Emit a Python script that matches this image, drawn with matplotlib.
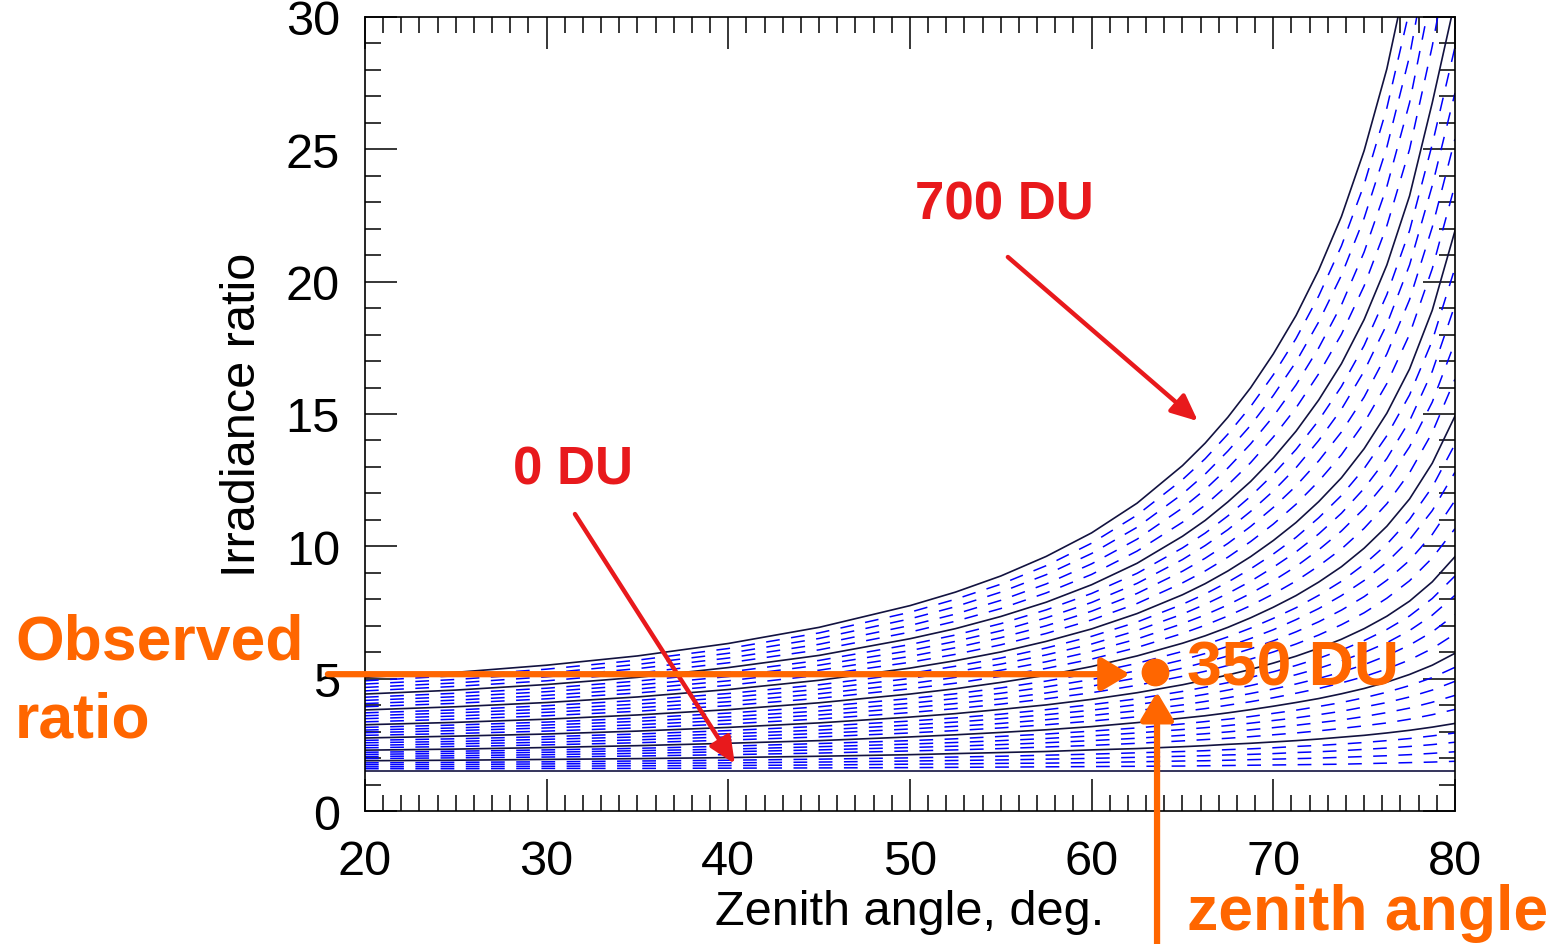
import matplotlib.pyplot as plt
from matplotlib.ticker import MultipleLocator

plt.rcParams['font.family'] = ['Liberation Sans', 'DejaVu Sans']

# solar zenith angle grid (deg)
zenith = [20, 25, 30, 35, 40, 45, 50, 52.5, 55, 57.5, 60, 62.5, 65, 66.25, 67.5,
          68.75, 70, 71.25, 72.5, 73.75, 75, 76.25, 77.5, 78.75, 80]

# irradiance ratio for each total ozone column (DU)
du_000 = [1.52] * len(zenith)
du_020 = [1.60, 1.60, 1.61, 1.61, 1.62, 1.63, 1.64, 1.65, 1.66, 1.67, 1.68, 1.69, 1.70, 1.71, 1.72, 1.73, 1.74, 1.75, 1.76, 1.77, 1.79, 1.81, 1.83, 1.85, 1.88]
du_040 = [1.67, 1.68, 1.69, 1.71, 1.72, 1.74, 1.77, 1.78, 1.80, 1.81, 1.83, 1.86, 1.89, 1.90, 1.92, 1.94, 1.96, 1.98, 2.00, 2.03, 2.06, 2.09, 2.13, 2.18, 2.24]
du_060 = [1.75, 1.76, 1.78, 1.80, 1.82, 1.85, 1.89, 1.91, 1.93, 1.96, 1.99, 2.03, 2.07, 2.09, 2.12, 2.14, 2.17, 2.21, 2.24, 2.28, 2.33, 2.38, 2.44, 2.51, 2.60]
du_080 = [1.82, 1.84, 1.86, 1.89, 1.92, 1.96, 2.01, 2.04, 2.07, 2.11, 2.15, 2.20, 2.25, 2.28, 2.32, 2.35, 2.39, 2.44, 2.48, 2.53, 2.59, 2.66, 2.74, 2.84, 2.95]
du_100 = [1.90, 1.92, 1.95, 1.98, 2.02, 2.07, 2.13, 2.17, 2.21, 2.25, 2.31, 2.36, 2.43, 2.47, 2.52, 2.56, 2.61, 2.66, 2.72, 2.79, 2.86, 2.95, 3.05, 3.17, 3.31]
du_120 = [1.98, 2.01, 2.04, 2.08, 2.13, 2.19, 2.27, 2.31, 2.36, 2.42, 2.48, 2.56, 2.65, 2.70, 2.75, 2.81, 2.88, 2.95, 3.03, 3.12, 3.22, 3.33, 3.47, 3.64, 3.84]
du_140 = [2.06, 2.09, 2.13, 2.18, 2.24, 2.31, 2.40, 2.45, 2.51, 2.58, 2.66, 2.75, 2.86, 2.92, 2.99, 3.07, 3.15, 3.24, 3.34, 3.44, 3.57, 3.72, 3.89, 4.11, 4.37]
du_160 = [2.14, 2.18, 2.22, 2.28, 2.34, 2.43, 2.53, 2.59, 2.66, 2.74, 2.84, 2.95, 3.08, 3.15, 3.23, 3.32, 3.42, 3.52, 3.64, 3.77, 3.93, 4.10, 4.31, 4.57, 4.90]
du_180 = [2.22, 2.26, 2.31, 2.37, 2.45, 2.55, 2.66, 2.73, 2.82, 2.91, 3.02, 3.14, 3.29, 3.38, 3.47, 3.57, 3.69, 3.81, 3.95, 4.10, 4.28, 4.49, 4.74, 5.04, 5.43]
du_200 = [2.30, 2.34, 2.40, 2.47, 2.56, 2.66, 2.80, 2.88, 2.97, 3.07, 3.19, 3.34, 3.51, 3.60, 3.71, 3.83, 3.96, 4.10, 4.25, 4.43, 4.63, 4.87, 5.16, 5.51, 5.96]
du_220 = [2.39, 2.44, 2.50, 2.58, 2.68, 2.80, 2.95, 3.04, 3.14, 3.26, 3.40, 3.56, 3.76, 3.87, 4.00, 4.13, 4.28, 4.45, 4.63, 4.84, 5.08, 5.37, 5.71, 6.14, 6.69]
du_240 = [2.48, 2.54, 2.60, 2.69, 2.80, 2.93, 3.10, 3.20, 3.31, 3.45, 3.61, 3.79, 4.01, 4.14, 4.28, 4.44, 4.61, 4.80, 5.01, 5.25, 5.53, 5.87, 6.27, 6.77, 7.42]
du_260 = [2.58, 2.63, 2.71, 2.80, 2.92, 3.06, 3.25, 3.36, 3.49, 3.64, 3.81, 4.02, 4.27, 4.41, 4.57, 4.74, 4.94, 5.15, 5.39, 5.67, 5.99, 6.36, 6.82, 7.40, 8.15]
du_280 = [2.67, 2.73, 2.81, 2.91, 3.04, 3.20, 3.40, 3.52, 3.66, 3.83, 4.02, 4.24, 4.52, 4.68, 4.85, 5.05, 5.26, 5.50, 5.77, 6.08, 6.44, 6.86, 7.37, 8.03, 8.88]
du_300 = [2.76, 2.83, 2.91, 3.02, 3.16, 3.33, 3.55, 3.68, 3.84, 4.01, 4.22, 4.47, 4.77, 4.95, 5.14, 5.35, 5.59, 5.85, 6.15, 6.49, 6.89, 7.36, 7.93, 8.66, 9.61]
du_320 = [2.86, 2.93, 3.02, 3.14, 3.29, 3.48, 3.72, 3.87, 4.04, 4.24, 4.47, 4.75, 5.09, 5.28, 5.50, 5.74, 6.01, 6.31, 6.65, 7.04, 7.49, 8.04, 8.70, 9.56, 10.67]
du_340 = [2.96, 3.04, 3.14, 3.26, 3.43, 3.63, 3.90, 4.06, 4.24, 4.46, 4.72, 5.03, 5.40, 5.62, 5.86, 6.13, 6.43, 6.77, 7.15, 7.59, 8.10, 8.72, 9.47, 10.45, 11.73]
du_360 = [3.06, 3.14, 3.25, 3.39, 3.56, 3.78, 4.07, 4.25, 4.45, 4.69, 4.97, 5.30, 5.71, 5.95, 6.22, 6.52, 6.85, 7.23, 7.65, 8.14, 8.71, 9.40, 10.25, 11.35, 12.80]
du_380 = [3.16, 3.25, 3.36, 3.51, 3.70, 3.94, 4.25, 4.43, 4.65, 4.91, 5.21, 5.58, 6.03, 6.29, 6.58, 6.91, 7.28, 7.68, 8.15, 8.68, 9.32, 10.08, 11.02, 12.24, 13.86]
du_400 = [3.26, 3.35, 3.47, 3.63, 3.83, 4.09, 4.42, 4.62, 4.86, 5.13, 5.46, 5.86, 6.34, 6.62, 6.94, 7.30, 7.70, 8.14, 8.65, 9.23, 9.93, 10.76, 11.79, 13.14, 14.92]
du_420 = [3.37, 3.47, 3.60, 3.77, 3.98, 4.26, 4.62, 4.83, 5.09, 5.39, 5.74, 6.18, 6.71, 7.02, 7.37, 7.76, 8.20, 8.69, 9.26, 9.90, 10.68, 11.61, 12.78, 14.30, 16.32]
du_440 = [3.49, 3.59, 3.73, 3.90, 4.13, 4.43, 4.81, 5.05, 5.32, 5.64, 6.03, 6.50, 7.08, 7.41, 7.79, 8.22, 8.70, 9.24, 9.87, 10.58, 11.43, 12.47, 13.76, 15.45, 17.72]
du_460 = [3.60, 3.71, 3.85, 4.04, 4.29, 4.60, 5.01, 5.26, 5.55, 5.90, 6.31, 6.82, 7.44, 7.81, 8.22, 8.68, 9.21, 9.79, 10.47, 11.25, 12.19, 13.32, 14.74, 16.61, 19.12]
du_480 = [3.71, 3.82, 3.98, 4.18, 4.44, 4.77, 5.20, 5.47, 5.78, 6.16, 6.60, 7.14, 7.81, 8.20, 8.65, 9.15, 9.71, 10.34, 11.08, 11.92, 12.94, 14.18, 15.72, 17.77, 20.52]
du_500 = [3.82, 3.94, 4.10, 4.31, 4.59, 4.94, 5.40, 5.68, 6.01, 6.41, 6.88, 7.46, 8.17, 8.59, 9.07, 9.61, 10.22, 10.90, 11.69, 12.59, 13.69, 15.03, 16.70, 18.92, 21.92]
du_520 = [3.94, 4.07, 4.24, 4.46, 4.75, 5.13, 5.62, 5.92, 6.28, 6.71, 7.22, 7.84, 8.62, 9.07, 9.59, 10.18, 10.84, 11.59, 12.46, 13.46, 14.67, 16.15, 18.01, 20.49, 23.66]
du_540 = [4.06, 4.19, 4.37, 4.61, 4.92, 5.32, 5.84, 6.17, 6.55, 7.00, 7.55, 8.22, 9.06, 9.55, 10.11, 10.75, 11.47, 12.28, 13.23, 14.32, 15.64, 17.27, 19.32, 22.06, 25.39]
du_560 = [4.18, 4.32, 4.51, 4.76, 5.08, 5.51, 6.06, 6.41, 6.81, 7.30, 7.88, 8.60, 9.50, 10.03, 10.63, 11.32, 12.09, 12.97, 14.00, 15.18, 16.62, 18.39, 20.63, 23.63, 27.13]
du_580 = [4.30, 4.45, 4.64, 4.91, 5.25, 5.69, 6.29, 6.65, 7.08, 7.60, 8.22, 8.98, 9.94, 10.50, 11.15, 11.89, 12.72, 13.66, 14.76, 16.04, 17.59, 19.51, 21.93, 25.19, 28.86]
du_600 = [4.42, 4.57, 4.78, 5.05, 5.42, 5.88, 6.51, 6.89, 7.35, 7.89, 8.55, 9.36, 10.38, 10.98, 11.68, 12.45, 13.34, 14.35, 15.53, 16.90, 18.57, 20.63, 23.24, 26.76, 30.60]
du_620 = [4.54, 4.71, 4.92, 5.21, 5.60, 6.09, 6.76, 7.17, 7.65, 8.24, 8.94, 9.82, 10.91, 11.56, 12.32, 13.16, 14.13, 15.23, 16.52, 18.01, 19.84, 22.11, 25.00, 28.90, 33.50]
du_640 = [4.67, 4.84, 5.07, 5.38, 5.78, 6.30, 7.01, 7.44, 7.96, 8.58, 9.34, 10.27, 11.45, 12.15, 12.96, 13.87, 14.91, 16.10, 17.50, 19.12, 21.12, 23.59, 26.76, 31.05, 36.40]
du_660 = [4.80, 4.97, 5.21, 5.54, 5.96, 6.52, 7.26, 7.72, 8.27, 8.93, 9.73, 10.72, 11.98, 12.73, 13.60, 14.57, 15.70, 16.97, 18.48, 20.24, 22.40, 25.08, 28.52, 33.19, 39.29]
du_680 = [4.92, 5.11, 5.36, 5.70, 6.14, 6.73, 7.51, 8.00, 8.57, 9.27, 10.12, 11.18, 12.52, 13.31, 14.24, 15.28, 16.48, 17.85, 19.46, 21.35, 23.67, 26.56, 30.27, 35.33, 42.19]
du_700 = [5.05, 5.24, 5.51, 5.86, 6.33, 6.94, 7.76, 8.27, 8.88, 9.62, 10.51, 11.63, 13.05, 13.90, 14.88, 15.99, 17.27, 18.72, 20.44, 22.46, 24.95, 28.04, 32.03, 37.48, 45.09]

curves = [
    (0, du_000), (20, du_020), (40, du_040), (60, du_060), (80, du_080),
    (100, du_100), (120, du_120), (140, du_140), (160, du_160), (180, du_180),
    (200, du_200), (220, du_220), (240, du_240), (260, du_260), (280, du_280),
    (300, du_300), (320, du_320), (340, du_340), (360, du_360), (380, du_380),
    (400, du_400), (420, du_420), (440, du_440), (460, du_460), (480, du_480),
    (500, du_500), (520, du_520), (540, du_540), (560, du_560), (580, du_580),
    (600, du_600), (620, du_620), (640, du_640), (660, du_660), (680, du_680),
    (700, du_700),
]

# observed point
obs_zenith = 63.5
obs_ratio = 5.2

ORANGE = '#ff6600'
RED = '#e8191c'

fig = plt.figure(figsize=(15.65, 9.45), dpi=100)
ax = fig.add_axes([0.2332, 0.1407, 0.6965, 0.8403])

# dashed (intermediate ozone) first, solid every 100 DU on top
for du, vals in curves:
    if du % 100 != 0:
        ax.plot(zenith, vals, color='#0000ff', lw=1.1, dashes=(9, 7.5))
for du, vals in curves:
    if du % 100 == 0:
        ax.plot(zenith, vals, color='#121240', lw=1.2)

ax.set_xlim(20, 80)
ax.set_ylim(0, 30)
ax.xaxis.set_major_locator(MultipleLocator(10))
ax.xaxis.set_minor_locator(MultipleLocator(1))
ax.yaxis.set_major_locator(MultipleLocator(5))
ax.yaxis.set_minor_locator(MultipleLocator(1))
ax.tick_params(which='both', direction='in', top=True, right=True,
               width=1.1, color='black', labelsize=35)
ax.tick_params(which='major', length=23)
ax.tick_params(which='minor', length=11.5)
ax.tick_params(axis='x', pad=20)
ax.tick_params(axis='y', pad=18)
for sp in ax.spines.values():
    sp.set_linewidth(1.2)

ax.set_xlabel('Zenith angle, deg.', fontsize=35, labelpad=4)
ax.set_ylabel('Irradiance ratio', fontsize=35, labelpad=15)

# red labels and arrows
fig.text(0.5847, 0.7672, '700 DU', color=RED, fontsize=38, fontweight='bold')
fig.text(0.3278, 0.4878, '0 DU', color=RED, fontsize=38, fontweight='bold')
ax.annotate('', xy=(65.85, 14.73), xytext=(55.39, 20.93),
            arrowprops=dict(arrowstyle='-|>,head_length=0.4,head_width=0.18',
                            mutation_scale=40, color=RED, lw=3.2,
                            shrinkA=0, shrinkB=0))
ax.annotate('', xy=(40.36, 1.78), xytext=(31.56, 11.22),
            arrowprops=dict(arrowstyle='-|>,head_length=0.4,head_width=0.18',
                            mutation_scale=40, color=RED, lw=3.2,
                            shrinkA=0, shrinkB=0))

# observed ratio / zenith angle readout
ax.annotate('', xy=(62.1, 5.17), xytext=(17.96, 5.17), annotation_clip=False,
            arrowprops=dict(arrowstyle='-|>,head_length=0.42,head_width=0.25',
                            mutation_scale=40, color=ORANGE, lw=4.5,
                            shrinkA=0, shrinkB=0))
ax.annotate('', xy=(obs_zenith + 0.1, 4.5), xytext=(obs_zenith + 0.1, -5.3),
            annotation_clip=False,
            arrowprops=dict(arrowstyle='-|>,head_length=0.42,head_width=0.25',
                            mutation_scale=40, color=ORANGE, lw=4.5,
                            shrinkA=0, shrinkB=0))
ax.plot([obs_zenith], [obs_ratio + 0.04], 'o', color=ORANGE, ms=19, clip_on=False)

fig.text(0.0096, 0.3016, 'Observed', color=ORANGE, fontsize=45, fontweight='bold')
fig.text(0.0096, 0.2201, 'ratio', color=ORANGE, fontsize=45, fontweight='bold')
fig.text(0.7585, 0.2751, '350 DU', color=ORANGE, fontsize=45, fontweight='bold')
fig.text(0.7585, 0.0159, 'zenith angle', color=ORANGE, fontsize=45, fontweight='bold')

fig.savefig('out.png', dpi=100)
